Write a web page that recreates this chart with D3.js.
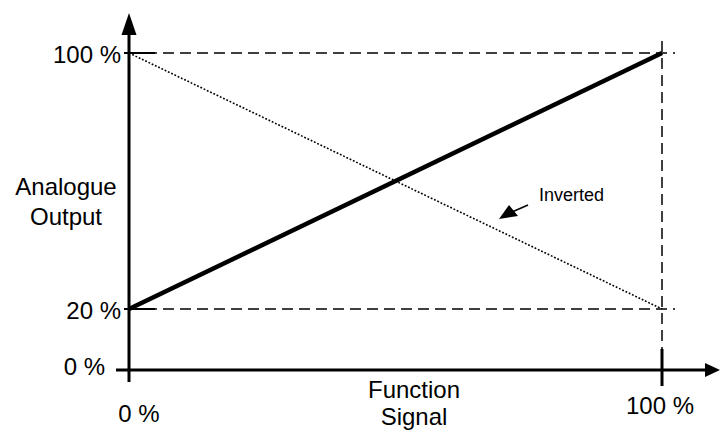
<!DOCTYPE html>
<html>
<head>
<meta charset="utf-8">
<script src="https://cdn.jsdelivr.net/npm/d3@7/dist/d3.min.js"></script>
<style>
  body { margin: 0; background: #fff; }
</style>
</head>
<body>
<script>
// data
var signal = [0, 100];
var outputNormal = [20, 100];
var outputInverted = [100, 20];
var yTickValues = [0, 20, 100];
var yTickLabels = ["0 %", "20 %", "100 %"];
var xTickValues = [0, 100];
var xTickLabels = ["0 %", "100 %"];

var width = 720;
var height = 435;

var svg = d3.select("body")
            .append("svg")
            .attr("width", width)
            .attr("height", height)
            .attr("font-family", "'Liberation Sans', Arial, Helvetica, sans-serif");

// schematic scale: 0 % -> 20 % spacing is a bit shorter than the rest
var xScale = d3.scaleLinear()
               .domain([0, 100])
               .range([129, 662]);

var yScale = d3.scaleLinear()
               .domain([0, 20, 100])
               .range([370, 309, 53]);

var line = d3.line()
             .x(function(d){ return xScale(d[0]); })
             .y(function(d){ return yScale(d[1]); });

// guide lines
svg.append("line")
   .attr("x1", xScale(0)).attr("x2", 675)
   .attr("y1", yScale(100)).attr("y2", yScale(100))
   .attr("stroke", "#000").attr("stroke-width", 1.5)
   .attr("stroke-dasharray", "11,6");

svg.append("line")
   .attr("x1", xScale(0)).attr("x2", 675)
   .attr("y1", yScale(20)).attr("y2", yScale(20))
   .attr("stroke", "#000").attr("stroke-width", 1.5)
   .attr("stroke-dasharray", "11,6");

svg.append("line")
   .attr("x1", xScale(100)).attr("x2", xScale(100))
   .attr("y1", 41).attr("y2", 350)
   .attr("stroke", "#000").attr("stroke-width", 1.5)
   .attr("stroke-dasharray", "11,6");

// inverted (dotted)
svg.append("path")
   .datum(signal.map(function(s, i){ return [s, outputInverted[i]]; }))
   .attr("d", line)
   .attr("fill", "none")
   .attr("stroke", "#000")
   .attr("stroke-width", 1.6)
   .attr("stroke-dasharray", "1.8,1.8");

// normal (thick)
svg.append("path")
   .datum(signal.map(function(s, i){ return [s, outputNormal[i]]; }))
   .attr("d", line)
   .attr("fill", "none")
   .attr("stroke", "#000")
   .attr("stroke-width", 4.5);

// axes
svg.append("line")
   .attr("x1", 116).attr("x2", 708)
   .attr("y1", yScale(0)).attr("y2", yScale(0))
   .attr("stroke", "#000").attr("stroke-width", 3);
svg.append("path")
   .attr("d", "M720," + yScale(0) + "L705," + (yScale(0) - 7) + "L705," + (yScale(0) + 7) + "Z")
   .attr("fill", "#000");

svg.append("line")
   .attr("x1", xScale(0)).attr("x2", xScale(0))
   .attr("y1", 382).attr("y2", 30)
   .attr("stroke", "#000").attr("stroke-width", 3);
svg.append("path")
   .attr("d", "M" + xScale(0) + ",13L" + (xScale(0) - 7.5) + ",35L" + (xScale(0) + 7.5) + ",35Z")
   .attr("fill", "#000");

// y ticks
svg.selectAll(".ytick")
   .data(yTickValues.filter(function(d){ return d > 0; }))
   .enter()
   .append("line")
   .attr("x1", 124).attr("x2", 155)
   .attr("y1", function(d){ return yScale(d); })
   .attr("y2", function(d){ return yScale(d); })
   .attr("stroke", "#000").attr("stroke-width", 2);

svg.selectAll(".ylab")
   .data(yTickValues)
   .enter()
   .append("text")
   .attr("x", function(d){ return d == 0 ? 105 : 121; })
   .attr("y", function(d){ return yScale(d) + (d == 0 ? 5 : 10); })
   .attr("text-anchor", "end")
   .attr("font-size", 24)
   .text(function(d, i){ return yTickLabels[i]; });

// x ticks
svg.append("line")
   .attr("x1", xScale(100)).attr("x2", xScale(100))
   .attr("y1", 349).attr("y2", 386)
   .attr("stroke", "#000").attr("stroke-width", 3);

svg.selectAll(".xlab")
   .data(xTickValues)
   .enter()
   .append("text")
   .attr("x", function(d){ return xScale(d) + (d == 0 ? 10 : -2); })
   .attr("y", function(d){ return d == 0 ? 422 : 414; })
   .attr("text-anchor", "middle")
   .attr("font-size", 24)
   .text(function(d, i){ return xTickLabels[i]; });

// axis titles
svg.append("text")
   .attr("x", 66).attr("y", 195)
   .attr("text-anchor", "middle").attr("font-size", 24)
   .text("Analogue");
svg.append("text")
   .attr("x", 66).attr("y", 225)
   .attr("text-anchor", "middle").attr("font-size", 24)
   .text("Output");

svg.append("text")
   .attr("x", 414).attr("y", 398)
   .attr("text-anchor", "middle").attr("font-size", 24)
   .text("Function");
svg.append("text")
   .attr("x", 414).attr("y", 425)
   .attr("text-anchor", "middle").attr("font-size", 24)
   .text("Signal");

// annotation
svg.append("text")
   .attr("x", 539).attr("y", 201)
   .attr("font-size", 18)
   .text("Inverted");
svg.append("line")
   .attr("x1", 528).attr("y1", 205)
   .attr("x2", 512).attr("y2", 212)
   .attr("stroke", "#000").attr("stroke-width", 1.5);
svg.append("path")
   .attr("d", "M499,219L509,205L518,216Z")
   .attr("fill", "#000");
</script>
</body>
</html>
